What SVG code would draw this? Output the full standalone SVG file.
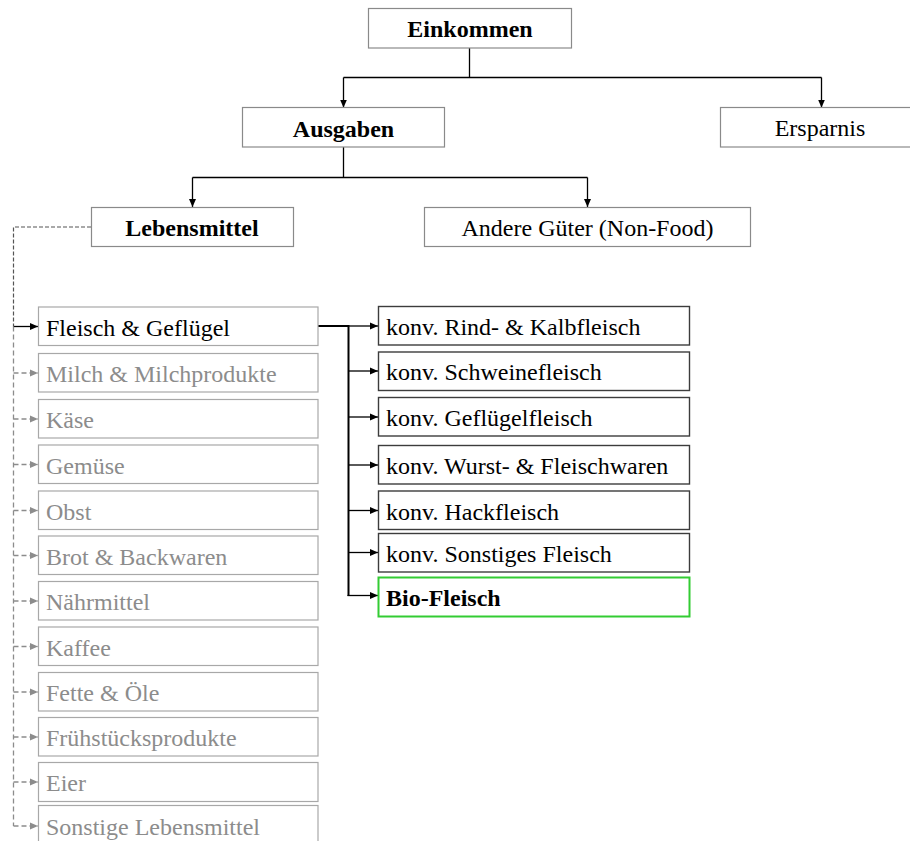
<svg xmlns="http://www.w3.org/2000/svg" width="910" height="841" viewBox="0 0 910 841">
<style>
text{font-family:"Liberation Serif","Times New Roman",serif;font-size:24px;fill:#000}
.b{font-weight:bold}
.c{text-anchor:middle}
.g{fill:#8c8c8c}
.top{fill:#fff;stroke:#8a8a8a;stroke-width:1.2}
.lg{fill:#fff;stroke:#a8a8a8;stroke-width:1.2}
.rk{fill:#fff;stroke:#3c3c3c;stroke-width:1.4}
.bio{fill:#fff;stroke:#33cc33;stroke-width:2}
.ln{fill:none;stroke:#000;stroke-width:1.3}
.th{fill:none;stroke:#000;stroke-width:2}
.dd{fill:none;stroke:#555;stroke-width:1.2;stroke-dasharray:4 2}
.gd{fill:none;stroke:#8c8c8c;stroke-width:1.3;stroke-dasharray:5 3}
</style>
<defs>
<marker id="ah" markerUnits="userSpaceOnUse" markerWidth="9" markerHeight="8" refX="8" refY="4" orient="auto"><path d="M0,0.5 L8,4 L0,7.5 z" fill="#000"/></marker>
<marker id="ahg" markerUnits="userSpaceOnUse" markerWidth="9" markerHeight="8" refX="8" refY="4" orient="auto"><path d="M0,0.5 L8,4 L0,7.5 z" fill="#8c8c8c"/></marker>
</defs>

<g id="connectors">
<path class="ln" d="M469.5,48 V77.5"/>
<path class="ln" d="M343.5,77.5 H821.5"/>
<path class="ln" d="M343.5,77.5 V107.5" marker-end="url(#ah)"/>
<path class="ln" d="M821.5,77.5 V107.5" marker-end="url(#ah)"/>
<path class="ln" d="M343.5,147 V177.5"/>
<path class="ln" d="M192.5,177.5 H587.5"/>
<path class="ln" d="M192.5,177.5 V207" marker-end="url(#ah)"/>
<path class="ln" d="M587.5,177.5 V207" marker-end="url(#ah)"/>
<path class="dd" d="M91,227 H13.5 V326.5"/>
<path class="ln" d="M13.5,326.5 H38" marker-end="url(#ah)"/>
<path class="gd" d="M13.5,326.5 V826"/>
<path class="gd" d="M13.5,373 H38" marker-end="url(#ahg)"/>
<path class="gd" d="M13.5,419 H38" marker-end="url(#ahg)"/>
<path class="gd" d="M13.5,464.5 H38" marker-end="url(#ahg)"/>
<path class="gd" d="M13.5,510.5 H38" marker-end="url(#ahg)"/>
<path class="gd" d="M13.5,555.5 H38" marker-end="url(#ahg)"/>
<path class="gd" d="M13.5,601 H38" marker-end="url(#ahg)"/>
<path class="gd" d="M13.5,646.5 H38" marker-end="url(#ahg)"/>
<path class="gd" d="M13.5,692 H38" marker-end="url(#ahg)"/>
<path class="gd" d="M13.5,737 H38" marker-end="url(#ahg)"/>
<path class="gd" d="M13.5,782 H38" marker-end="url(#ahg)"/>
<path class="gd" d="M13.5,826 H38" marker-end="url(#ahg)"/>
<path class="th" d="M318,326 H348.5"/>
<path class="th" d="M348.5,325 V596"/>
<path class="ln" d="M348.5,326 H378" marker-end="url(#ah)"/>
<path class="ln" d="M348.5,371 H378" marker-end="url(#ah)"/>
<path class="ln" d="M348.5,417 H378" marker-end="url(#ah)"/>
<path class="ln" d="M348.5,465 H378" marker-end="url(#ah)"/>
<path class="ln" d="M348.5,510.5 H378" marker-end="url(#ah)"/>
<path class="ln" d="M348.5,552.5 H378" marker-end="url(#ah)"/>
<path class="ln" d="M347.5,595.5 H378" marker-end="url(#ah)"/>
</g>

<g id="einkommen"><rect class="top" x="368.5" y="8.5" width="203" height="39.5"/><text class="b c" x="470" y="37">Einkommen</text></g>
<g id="ausgaben"><rect class="top" x="242.5" y="107.5" width="202" height="39.5"/><text class="b c" x="343.5" y="137">Ausgaben</text></g>
<g id="ersparnis"><rect class="top" x="720.5" y="107.5" width="202" height="39.5"/><text class="c" x="820" y="136">Ersparnis</text></g>
<g id="lebensmittel"><rect class="top" x="91.5" y="207.5" width="202" height="39"/><text class="b c" x="192" y="236">Lebensmittel</text></g>
<g id="andere"><rect class="top" x="424.5" y="207.5" width="326" height="39"/><text class="c" x="587.5" y="235.5">Andere Güter (Non-Food)</text></g>

<g id="fleisch"><rect class="lg" x="38.5" y="307" width="279.5" height="38.5"/><text x="46" y="335.5">Fleisch &amp; Geflügel</text></g>
<g id="milch"><rect class="lg" x="38.5" y="353.5" width="279.5" height="38.5"/><text class="g" x="46" y="382">Milch &amp; Milchprodukte</text></g>
<g id="kaese"><rect class="lg" x="38.5" y="399.5" width="279.5" height="38.5"/><text class="g" x="46" y="428">Käse</text></g>
<g id="gemuese"><rect class="lg" x="38.5" y="445" width="279.5" height="38.5"/><text class="g" x="46" y="473.5">Gemüse</text></g>
<g id="obst"><rect class="lg" x="38.5" y="491" width="279.5" height="38.5"/><text class="g" x="46" y="519.5">Obst</text></g>
<g id="brot"><rect class="lg" x="38.5" y="536" width="279.5" height="38.5"/><text class="g" x="46" y="564.5">Brot &amp; Backwaren</text></g>
<g id="naehrmittel"><rect class="lg" x="38.5" y="581.5" width="279.5" height="38.5"/><text class="g" x="46" y="610">Nährmittel</text></g>
<g id="kaffee"><rect class="lg" x="38.5" y="627" width="279.5" height="38.5"/><text class="g" x="46" y="655.5">Kaffee</text></g>
<g id="fette"><rect class="lg" x="38.5" y="672.5" width="279.5" height="38.5"/><text class="g" x="46" y="701">Fette &amp; Öle</text></g>
<g id="fruehstueck"><rect class="lg" x="38.5" y="717.5" width="279.5" height="38.5"/><text class="g" x="46" y="746">Frühstücksprodukte</text></g>
<g id="eier"><rect class="lg" x="38.5" y="762.5" width="279.5" height="39"/><text class="g" x="46" y="791">Eier</text></g>
<g id="sonstige-lm"><rect class="lg" x="38.5" y="805.5" width="279.5" height="45"/><text class="g" x="46" y="835">Sonstige Lebensmittel</text></g>

<g id="rind"><rect class="rk" x="378.5" y="306.5" width="311" height="38.5"/><text x="386" y="335">konv. Rind- &amp; Kalbfleisch</text></g>
<g id="schwein"><rect class="rk" x="378.5" y="352" width="311" height="38.5"/><text x="386" y="380">konv. Schweinefleisch</text></g>
<g id="gefluegel"><rect class="rk" x="378.5" y="397.5" width="311" height="38.5"/><text x="386" y="426">konv. Geflügelfleisch</text></g>
<g id="wurst"><rect class="rk" x="378.5" y="445.5" width="311" height="38.5"/><text x="386" y="474">konv. Wurst- &amp; Fleischwaren</text></g>
<g id="hack"><rect class="rk" x="378.5" y="491" width="311" height="38.5"/><text x="386" y="519.5">konv. Hackfleisch</text></g>
<g id="sonstiges-fleisch"><rect class="rk" x="378.5" y="533.5" width="311" height="38.5"/><text x="386" y="562">konv. Sonstiges Fleisch</text></g>
<g id="bio"><rect class="bio" x="378.5" y="577.5" width="311" height="39"/><text class="b" x="386" y="606">Bio-Fleisch</text></g>
</svg>
